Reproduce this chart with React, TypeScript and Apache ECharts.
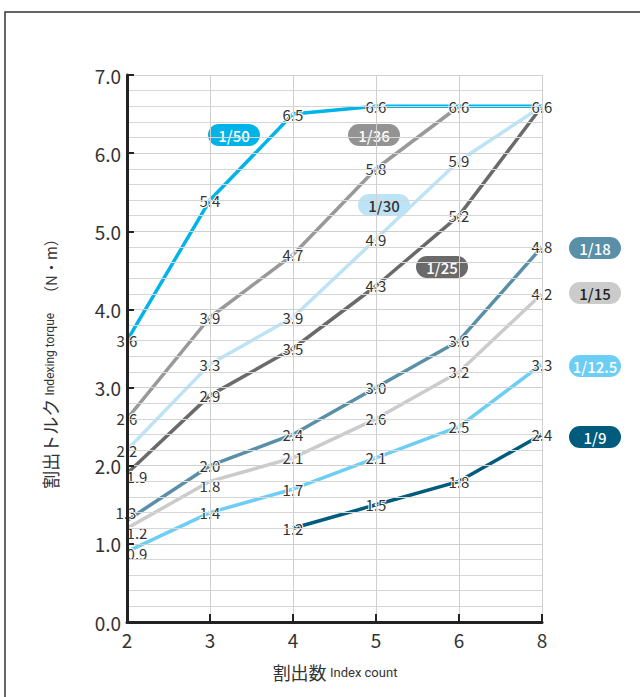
import React, { useEffect, useRef } from 'react';
import * as echarts from 'echarts';

const categories = ['2', '3', '4', '5', '6', '8'];
const yTicks = ['0.0', '1.0', '2.0', '3.0', '4.0', '5.0', '6.0', '7.0'];
const r50 = [3.6, 5.4, 6.5, 6.6, 6.6, 6.6];
const r36 = [2.6, 3.9, 4.7, 5.8, 6.6, null];
const r30 = [2.2, 3.3, 3.9, 4.9, 5.9, 6.6];
const r25 = [1.9, 2.9, 3.5, 4.3, 5.2, 6.6];
const r18 = [1.3, 2.0, 2.4, 3.0, 3.6, 4.8];
const r15 = [1.2, 1.8, 2.1, 2.6, 3.2, 4.2];
const r125 = [0.9, 1.4, 1.7, 2.1, 2.5, 3.3];
const r9 = [null, null, 1.2, 1.5, 1.8, 2.4];

const seriesDefs = [
  { name: '1/50', data: r50, color: '#00b4ea' },
  { name: '1/36', data: r36, color: '#999999' },
  { name: '1/30', data: r30, color: '#bde3f6' },
  { name: '1/25', data: r25, color: '#6a6a6a' },
  { name: '1/18', data: r18, color: '#5a8fa8' },
  { name: '1/15', data: r15, color: '#cbcbcb' },
  { name: '1/12.5', data: r125, color: '#6dcef5' },
  { name: '1/9', data: r9, color: '#005b7d' },
];

// label nudges for crowded points at the left edge: [seriesName, index, dx, dy]
const labelNudges: [string, number, number, number][] = [
  ['1/25', 0, 10, 3],
  ['1/18', 0, -1, -8],
  ['1/15', 0, 10, 4],
  ['1/12.5', 0, 10, 2],
  ['1/15', 1, 0, 4],
];

const badges = [
  { text: '1/50', x: 234, y: 135, fill: '#00b4ea', color: '#ffffff' },
  { text: '1/36', x: 374, y: 135, fill: '#939393', color: '#ffffff' },
  { text: '1/30', x: 384, y: 205, fill: '#bde3f6', color: '#333333' },
  { text: '1/25', x: 442, y: 267, fill: '#6a6a6a', color: '#ffffff' },
  { text: '1/18', x: 595, y: 248, fill: '#5a8fa8', color: '#ffffff' },
  { text: '1/15', x: 595, y: 293, fill: '#cbcbcb', color: '#222222' },
  { text: '1/12.5', x: 595, y: 366, fill: '#6dcef5', color: '#ffffff' },
  { text: '1/9', x: 595, y: 437, fill: '#005b7d', color: '#ffffff' },
];

const FONT = '"Noto Sans CJK JP", "Noto Sans", sans-serif';

export default function App() {
  const ref = useRef<HTMLDivElement>(null);
  useEffect(() => {
    if (!ref.current) return;
    const chart = echarts.init(ref.current, null, { renderer: 'svg' });
    const bw = 52, bh = 22;
    const badgeEls = badges.map((b) => ({
      type: 'group',
      x: b.x - bw / 2,
      y: b.y - bh / 2,
      children: [
        { type: 'rect', shape: { x: 0, y: 0, width: bw, height: bh, r: 11 }, style: { fill: b.fill } },
        {
          type: 'text',
          x: bw / 2,
          y: bh / 2,
          style: {
            text: b.text, fill: b.color, font: `500 15px ${FONT}`,
            textAlign: 'center', textVerticalAlign: 'middle',
          },
        },
      ],
    }));
    const labelBase = {
      show: true,
      position: 'inside',
      color: '#333',
      fontSize: 15,
      fontFamily: FONT,
      textBorderColor: '#ffffff',
      textBorderWidth: 2,
      formatter: (p: any) => Number(p.value).toFixed(1),
    };
    chart.setOption({
      animation: false,
      backgroundColor: '#ffffff',
      textStyle: { fontFamily: FONT },
      grid: { left: 127, right: 98, top: 75, bottom: 75, containLabel: false },
      xAxis: {
        type: 'category',
        data: categories,
        boundaryGap: false,
        axisLine: { show: true, lineStyle: { color: '#222', width: 3 } },
        axisTick: { show: true, inside: true, length: 8, lineStyle: { color: '#222', width: 2 } },
        axisLabel: { color: '#333', fontSize: 19, margin: 8, fontFamily: FONT },
        splitLine: { show: true, lineStyle: { color: '#cfcfcf', width: 1 } },
        z: 5,
      },
      yAxis: {
        type: 'value',
        min: 0,
        max: 7,
        interval: 1,
        axisLine: { show: true, lineStyle: { color: '#222', width: 3 } },
        axisTick: { show: true, inside: true, length: 7, lineStyle: { color: '#222', width: 2 } },
        axisLabel: {
          color: '#333', fontSize: 19, margin: 6, fontFamily: FONT,
          formatter: (v: number) => yTicks[Math.round(v)] ?? v.toFixed(1),
        },
        splitLine: { show: true, lineStyle: { color: '#cfcfcf', width: 1 } },
        minorTick: { show: false, splitNumber: 5 },
        minorSplitLine: { show: true, lineStyle: { color: '#d6d6d6', width: 1 } },
        z: 5,
      },
      series: seriesDefs.map((s, i) => ({
        name: s.name,
        type: 'line',
        data: s.data.map((v, j) => {
          const n = labelNudges.find((q) => q[0] === s.name && q[1] === j);
          if (v == null) return null;
          if (!n) return v;
          return { value: v, label: { offset: [n[2], n[3]] } };
        }),
        connectNulls: false,
        symbol: 'circle',
        symbolSize: 3,
        showSymbol: true,
        itemStyle: { color: '#ffffff', borderWidth: 0 },
        lineStyle: { color: s.color, width: 3.5 },
        z: 3 + (seriesDefs.length - i) * 0.01,
        label: labelBase,
      })),
      graphic: [
        {
          type: 'rect',
          z: -10,
          shape: { x: 5, y: 12, width: 720, height: 720 },
          style: { fill: 'none', stroke: '#333', lineWidth: 1.5 },
          silent: true,
        },
        ...badgeEls,
        {
          type: 'text',
          x: 50,
          y: 360,
          rotation: Math.PI / 2,
          style: {
            text: '{a|割出トルク} {b|Indexing torque}　{c|（N・m）}',
            textAlign: 'center',
            textVerticalAlign: 'middle',
            rich: {
              a: { fontSize: 18, fill: '#333', fontFamily: FONT },
              b: { fontSize: 12, fill: '#333', fontFamily: '"Liberation Sans Narrow", "Roboto", sans-serif' },
              c: { fontSize: 15, fill: '#333', fontFamily: FONT },
            },
          },
        },
        {
          type: 'text',
          x: 335,
          y: 672,
          style: {
            text: '{a|割出数} {b|Index count}',
            textAlign: 'center',
            textVerticalAlign: 'middle',
            rich: {
              a: { fontSize: 18, fill: '#333', fontFamily: FONT },
              b: { fontSize: 13, fill: '#333', fontFamily: '"Liberation Sans Narrow", "Roboto", sans-serif' },
            },
          },
        },
      ],
    });
    return () => chart.dispose();
  }, []);
  return (
    <div
      ref={ref}
      style={{ position: 'fixed', left: 0, top: 0, width: 640, height: 697 }}
    />
  );
}
